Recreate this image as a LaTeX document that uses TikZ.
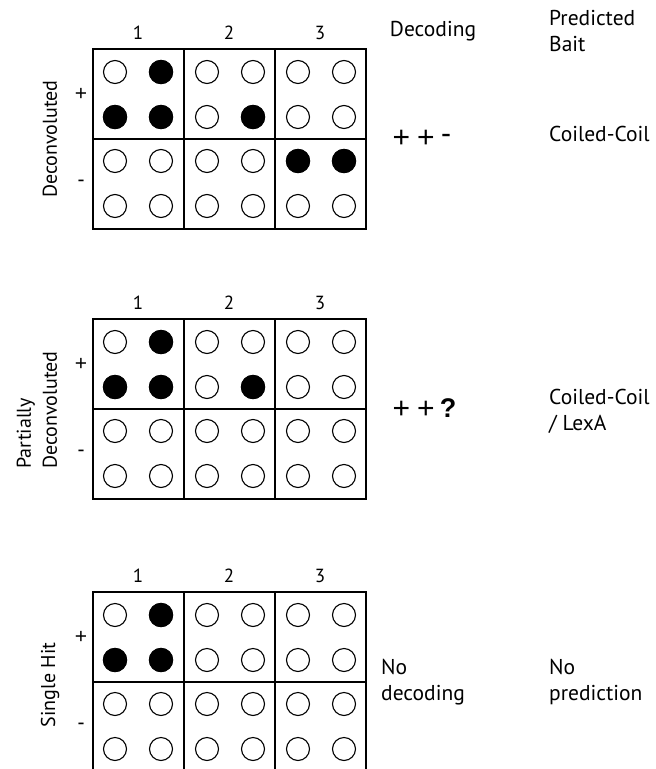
\documentclass[tikz,border=0pt]{standalone}
\usepackage{fontspec}
\setmainfont{PT Sans}
\newfontfamily\signfont{Liberation Sans}
\begin{document}
\begin{tikzpicture}[x=1pt,y=-1pt,
  gridline/.style={line width=1.8pt},
  well/.style={draw,line width=1.1pt,fill=white},
  hit/.style={fill=black},
  lbl/.style={inner sep=0pt,font=\fontsize{21.5}{26}\selectfont},
  sidelbl/.style={inner sep=0pt,rotate=90,font=\fontsize{20}{26}\selectfont},
  collbl/.style={inner sep=0pt,font=\fontsize{19}{22}\selectfont},
  sign/.style={inner sep=0pt,font=\signfont\fontsize{21}{22}\selectfont},
  code/.style={inner sep=0pt,font=\signfont\fontsize{30}{32}\selectfont}]
\useasboundingbox (0,0) rectangle (656,769);
\fill[white] (0,0) rectangle (656,769);
\begin{scope}
\clip (0,0) rectangle (656,769);
% three plate panels: top edge of each panel
\foreach \t/\nm in {49/a,319/b,592/c}{
  % plate outline and pool boundaries
  \draw[gridline] (93,\t) rectangle (366,\t+180);
  \draw[gridline] (93,\t+90) -- (366,\t+90);
  \draw[gridline] (184,\t) -- (184,\t+180);
  \draw[gridline] (275,\t) -- (275,\t+180);
  % wells
  \foreach \cx in {115,161,207,253,298,344}
    \foreach \dy in {23,68,112,157}
      \draw[well] (\cx,\t+\dy) circle (11.5);
  % pool numbers and sign labels
  \node[collbl] (\nm1) at (138,\t-16) {1};
  \node[collbl] (\nm2) at (229,\t-16) {2};
  \node[collbl] (\nm3) at (320,\t-16) {3};
  \node[sign] (\nm p) at (81,\t+45) {+};
  \node[sign] (\nm m) at (81,\t+134) {-};
}
\end{scope}
% positive wells
\foreach \p in {(161,72),(115,117),(161,117),(253,117),(298,161),(344,161),
                (161,342),(115,387),(161,387),(253,387),
                (161,615),(115,660),(161,660)}
  \fill[hit] \p circle (12.2);
% panel titles
\node[sidelbl] (t1) at (50,139) {Deconvoluted};
\node[sidelbl,align=left] (t2) at (37,410) {Partially\\Deconvoluted};
\node[sidelbl] (t3) at (50,685) {Single Hit};
% column headers
\node[lbl] (hdec) at (433,31) {Decoding};
\node[lbl,anchor=west,align=left] (hbait) at (549,31) {Predicted\\Bait};
% decoding results
\node[code] (d1a) at (401.5,139) {+};
\node[code] (d1b) at (426,139) {+};
\node[code] (d1c) at (446,139) {-};
\node[code] (d2a) at (401.5,410) {+};
\node[code] (d2b) at (426,410) {+};
\node[code,font=\signfont\fontsize{27}{30}\selectfont\bfseries] (d2c) at (448,408) {?};
\node[lbl,anchor=west,align=left] (d3) at (381,682) {No\\decoding};
% predictions
\node[lbl,anchor=west] (p1) at (549,134) {Coiled-Coil};
\node[lbl,anchor=west,align=left] (p2) at (549,411) {Coiled-Coil\\/ LexA};
\node[lbl,anchor=west,align=left] (p3) at (549,682) {No\\prediction};
\end{tikzpicture}
\end{document}
